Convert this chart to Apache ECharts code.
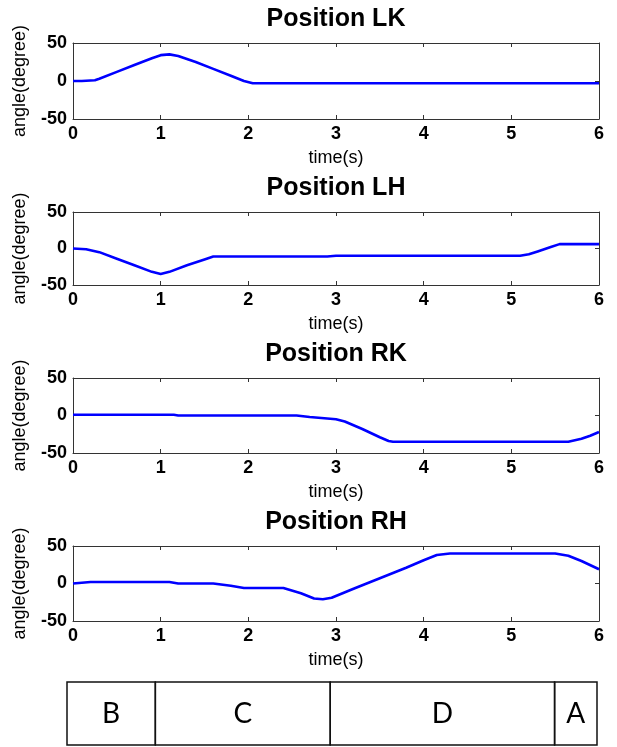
<!DOCTYPE html>
<html>
<head>
<meta charset="utf-8">
<title>Joint positions</title>
<script src="https://cdn.jsdelivr.net/npm/echarts@6/dist/echarts.min.js"></script>
<style>
  html, body { margin: 0; padding: 0; background: #fff; }
  #chart { width: 617px; height: 747px; }
</style>
</head>
<body>
<div id="chart"></div>
<script>
// Joint angle traces (time in s, angle in degrees)
const panelTitles = ['Position LK', 'Position LH', 'Position RK', 'Position RH'];

const lkTime  = [0, 0.1, 0.25, 0.3, 0.5, 0.7, 0.9, 1.0, 1.1, 1.2, 1.4, 1.6, 1.8, 1.95, 2.05, 6];
const lkAngle = [0, 0, 1, 3, 12, 21, 30, 34, 35, 33, 25, 16, 7, 0, -3, -3];

const lhTime  = [0, 0.15, 0.3, 0.5, 0.7, 0.9, 1.0, 1.1, 1.3, 1.5, 1.6, 2.9, 3.0, 5.1, 5.2, 5.3, 5.45, 5.55, 6];
const lhAngle = [0, -1, -5, -14, -23, -32, -35, -32, -23, -15, -11, -11, -10, -10, -8, -4, 2, 6, 6];

const rkTime  = [0, 1.15, 1.2, 2.55, 2.7, 2.9, 3.0, 3.1, 3.3, 3.5, 3.6, 3.65, 5.65, 5.8, 5.9, 6];
const rkAngle = [1, 1, 0, 0, -2, -4, -5, -8, -18, -29, -34, -35, -35, -31, -27, -22];

const rhTime  = [0, 0.2, 1.1, 1.2, 1.6, 1.8, 1.95, 2.4, 2.6, 2.75, 2.85, 2.95, 3.2, 3.5, 3.8, 4.0, 4.15, 4.3, 5.5, 5.65, 5.8, 6];
const rhAngle = [0, 2, 2, 0, 0, -3, -6, -6, -13, -20, -21, -19, -7, 7, 21, 31, 38, 40, 40, 37, 30, 19];

const xTicks = [0, 1, 2, 3, 4, 5, 6];
const yTicks = [-50, 0, 50];

// Gait phases shown in the strip under the panels
const phaseNames = ['B', 'C', 'D', 'A'];
const phaseStart = [0, 1.0, 2.98, 5.52];
const phaseEnd   = [1.0, 2.98, 5.52, 6];

const traces = [
  [lkTime, lkAngle],
  [lhTime, lhAngle],
  [rkTime, rkAngle],
  [rhTime, rhAngle]
];

// panel layout
const plotLeft = 73, plotWidth = 526;
const panelTop = [43, 212, 378, 546];
const panelHeight = [76, 73, 75, 75];

const FONT = 'Liberation Sans, Arial, sans-serif';
const axisColor = '#333';

const grids = [], xAxes = [], yAxes = [], series = [], titles = [];

panelTop.forEach((top, i) => {
  grids.push({ left: plotLeft, width: plotWidth, top: top, height: panelHeight[i], containLabel: false });

  titles.push({
    text: panelTitles[i],
    left: plotLeft + plotWidth / 2,
    textAlign: 'center',
    top: top - 36,
    padding: 0,
    textStyle: { fontFamily: FONT, fontSize: 25, fontWeight: 'bold', color: '#000' }
  });

  const commonX = {
    type: 'value', gridIndex: i, min: xTicks[0], max: xTicks[xTicks.length - 1], interval: 1,
    axisLine: { show: true, onZero: false, lineStyle: { color: axisColor, width: 1 } },
    axisTick: { show: true, inside: true, length: 4, lineStyle: { color: axisColor } },
    splitLine: { show: false }
  };
  xAxes.push(Object.assign({}, commonX, {
    position: 'bottom',
    name: 'time(s)', nameLocation: 'middle', nameGap: 30,
    nameTextStyle: { fontFamily: FONT, fontSize: 18, color: '#000' },
    axisLabel: { show: true, margin: 6, fontFamily: FONT, fontSize: 18, fontWeight: 'bold', color: '#000' }
  }));
  xAxes.push(Object.assign({}, commonX, { position: 'top', axisLabel: { show: false } }));

  const commonY = {
    type: 'value', gridIndex: i, min: yTicks[0], max: yTicks[yTicks.length - 1], interval: 50,
    axisLine: { show: true, onZero: false, lineStyle: { color: axisColor, width: 1 } },
    axisTick: { show: true, inside: true, length: 4, lineStyle: { color: axisColor } },
    splitLine: { show: false }
  };
  yAxes.push(Object.assign({}, commonY, {
    position: 'left',
    name: 'angle(degree)', nameLocation: 'middle', nameGap: 44, nameRotate: 90,
    nameTextStyle: { fontFamily: FONT, fontSize: 18, color: '#000' },
    axisLabel: { show: true, margin: 6, fontFamily: FONT, fontSize: 18, fontWeight: 'bold', color: '#000' }
  }));
  yAxes.push(Object.assign({}, commonY, { position: 'right', axisLabel: { show: false } }));

  const [t, v] = traces[i];
  series.push({
    type: 'line',
    xAxisIndex: 2 * i,
    yAxisIndex: 2 * i,
    data: t.map((x, k) => [x, v[k]]),
    showSymbol: false,
    symbol: 'none',
    lineStyle: { color: '#0000ff', width: 2.6 },
    animation: false,
    z: 3
  });
});

// phase strip
const stripIndex = panelTop.length;
grids.push({ left: 67, right: 20, top: 682, height: 63, containLabel: false });
xAxes.push({ type: 'value', gridIndex: stripIndex, min: 0, max: 6, show: false });
yAxes.push({ type: 'value', gridIndex: stripIndex, min: 0, max: 1, show: false });
series.push({
  type: 'custom',
  xAxisIndex: 2 * stripIndex,
  yAxisIndex: 2 * stripIndex,
  animation: false,
  data: phaseNames.map((n, k) => [phaseStart[k], phaseEnd[k], n]),
  renderItem: function (params, api) {
    const p0 = api.coord([api.value(0), 1]);
    const p1 = api.coord([api.value(1), 0]);
    const name = phaseNames[params.dataIndex];
    return {
      type: 'group',
      children: [
        {
          type: 'rect',
          shape: { x: p0[0], y: p0[1], width: p1[0] - p0[0], height: p1[1] - p0[1] },
          style: { fill: 'none', stroke: '#111', lineWidth: 1.5 }
        },
        {
          type: 'text',
          style: {
            text: name,
            x: (p0[0] + p1[0]) / 2,
            y: (p0[1] + p1[1]) / 2,
            textAlign: 'center',
            textVerticalAlign: 'middle',
            font: '28px Lato, "Open Sans", sans-serif',
            fill: '#000'
          }
        }
      ]
    };
  }
});

const chart = echarts.init(document.getElementById('chart'), null, { renderer: 'canvas' });
chart.setOption({
  backgroundColor: '#fff',
  animation: false,
  title: titles,
  grid: grids,
  xAxis: xAxes,
  yAxis: yAxes,
  series: series
});
</script>
</body>
</html>
